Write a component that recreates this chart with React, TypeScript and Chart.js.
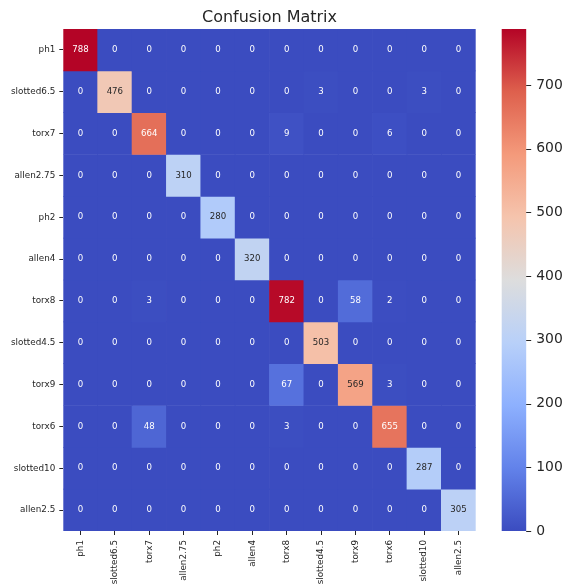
import React, { useEffect, useRef } from "react";
import { Chart, registerables } from "chart.js";

Chart.register(...registerables);

const rowLabels = ["ph1", "slotted6.5", "torx7", "allen2.75", "ph2", "allen4", "torx8", "slotted4.5", "torx9", "torx6", "slotted10", "allen2.5"];
const colLabels = ["ph1", "slotted6.5", "torx7", "allen2.75", "ph2", "allen4", "torx8", "slotted4.5", "torx9", "torx6", "slotted10", "allen2.5"];

const row_ph1 = [788, 0, 0, 0, 0, 0, 0, 0, 0, 0, 0, 0];
const row_slotted65 = [0, 476, 0, 0, 0, 0, 0, 3, 0, 0, 3, 0];
const row_torx7 = [0, 0, 664, 0, 0, 0, 9, 0, 0, 6, 0, 0];
const row_allen275 = [0, 0, 0, 310, 0, 0, 0, 0, 0, 0, 0, 0];
const row_ph2 = [0, 0, 0, 0, 280, 0, 0, 0, 0, 0, 0, 0];
const row_allen4 = [0, 0, 0, 0, 0, 320, 0, 0, 0, 0, 0, 0];
const row_torx8 = [0, 0, 3, 0, 0, 0, 782, 0, 58, 2, 0, 0];
const row_slotted45 = [0, 0, 0, 0, 0, 0, 0, 503, 0, 0, 0, 0];
const row_torx9 = [0, 0, 0, 0, 0, 0, 67, 0, 569, 3, 0, 0];
const row_torx6 = [0, 0, 48, 0, 0, 0, 3, 0, 0, 655, 0, 0];
const row_slotted10 = [0, 0, 0, 0, 0, 0, 0, 0, 0, 0, 287, 0];
const row_allen25 = [0, 0, 0, 0, 0, 0, 0, 0, 0, 0, 0, 305];

const matrix = [row_ph1, row_slotted65, row_torx7, row_allen275, row_ph2, row_allen4, row_torx8, row_slotted45, row_torx9, row_torx6, row_slotted10, row_allen25];

const colorbarTicks = [0, 100, 200, 300, 400, 500, 600, 700];
const titleText = "Confusion Matrix";

const vmax = Math.max(...matrix.map((r) => Math.max(...r)));

// matplotlib coolwarm control points
const coolwarm: [number, number, number, number][] = [
  [0.0, 59, 76, 192],
  [0.125, 98, 130, 234],
  [0.25, 141, 176, 254],
  [0.375, 184, 208, 249],
  [0.5, 221, 221, 221],
  [0.625, 245, 196, 173],
  [0.75, 244, 154, 123],
  [0.875, 222, 96, 77],
  [1.0, 180, 4, 38],
];

function cmapRGB(t: number): [number, number, number] {
  t = Math.max(0, Math.min(1, t));
  for (let i = 1; i < coolwarm.length; i++) {
    const a = coolwarm[i - 1];
    const b = coolwarm[i];
    if (t <= b[0]) {
      const f = (t - a[0]) / (b[0] - a[0]);
      return [a[1] + (b[1] - a[1]) * f, a[2] + (b[2] - a[2]) * f, a[3] + (b[3] - a[3]) * f];
    }
  }
  const l = coolwarm[coolwarm.length - 1];
  return [l[1], l[2], l[3]];
}
function cmap(t: number) {
  const [r, g, b] = cmapRGB(t);
  return `rgb(${Math.round(r)},${Math.round(g)},${Math.round(b)})`;
}
function luminance([r, g, b]: [number, number, number]) {
  const f = (c: number) => {
    c = c / 255;
    return c <= 0.03928 ? c / 12.92 : Math.pow((c + 0.055) / 1.055, 2.4);
  };
  return 0.2126 * f(r) + 0.7152 * f(g) + 0.0722 * f(b);
}

const FONT = "'DejaVu Sans', sans-serif";
const TEXT = "#262626";

const Y_AXIS_W = 63.3;
const X_AXIS_H = 57;
const TOP_PAD = 29;
const CB_AXIS_W = 90.3;
const CB_GAP = 26;
const CB_W = 24.5;
const CB_TICK = 5;
const CB_PAD = 5;

function zeroPadding(s: any) {
  s.paddingTop = 0;
  s.paddingBottom = 0;
  s.paddingLeft = 0;
  s.paddingRight = 0;
}

export default function App() {
  const ref = useRef<HTMLCanvasElement | null>(null);
  useEffect(() => {
    if (!ref.current) return;

    const datasets = matrix.map((row, r) => ({
      label: rowLabels[r],
      data: row.map(() => [r, r + 1]),
      backgroundColor: row.map((v) => cmap(v / vmax)),
      borderWidth: 0,
      barPercentage: 1,
      categoryPercentage: 1,
      grouped: false,
      yAxisID: "y",
    }));

    const titlePlugin = {
      id: "cmTitle",
      afterDraw(chart: any) {
        const { ctx, chartArea } = chart;
        ctx.save();
        ctx.font = `16px ${FONT}`;
        ctx.fillStyle = TEXT;
        ctx.textAlign = "center";
        ctx.textBaseline = "middle";
        ctx.fillText(titleText, (chartArea.left + chartArea.right) / 2, 18);
        ctx.restore();
      },
    };

    const annotPlugin = {
      id: "cmAnnot",
      afterDatasetsDraw(chart: any) {
        const ctx = chart.ctx;
        ctx.save();
        ctx.font = `8.6px ${FONT}`;
        ctx.textAlign = "center";
        ctx.textBaseline = "middle";
        matrix.forEach((row, r) => {
          const meta = chart.getDatasetMeta(r);
          row.forEach((v, c) => {
            const el: any = meta.data[c];
            if (!el) return;
            const lum = luminance(cmapRGB(v / vmax));
            ctx.fillStyle = lum > 0.408 ? TEXT : "#ffffff";
            ctx.fillText(String(v), el.x, (el.y + el.base) / 2);
          });
        });
        ctx.restore();
      },
    };

    const colorbarPlugin = {
      id: "cmColorbar",
      afterDraw(chart: any) {
        const { ctx, chartArea } = chart;
        const s = chart.scales.cb;
        const yTop = s.getPixelForValue(vmax);
        const yBot = s.getPixelForValue(0);
        const x0 = chartArea.right + CB_GAP;
        const grad = ctx.createLinearGradient(0, yBot, 0, yTop);
        coolwarm.forEach((p) => grad.addColorStop(p[0], `rgb(${p[1]},${p[2]},${p[3]})`));
        ctx.save();
        ctx.fillStyle = grad;
        ctx.fillRect(x0, yTop, CB_W, yBot - yTop);
        ctx.strokeStyle = TEXT;
        ctx.lineWidth = 1;
        colorbarTicks.forEach((v) => {
          const y = Math.round(s.getPixelForValue(v)) + 0.5;
          ctx.beginPath();
          ctx.moveTo(x0 + CB_W, y);
          ctx.lineTo(x0 + CB_W + CB_TICK, y);
          ctx.stroke();
        });
        ctx.restore();
      },
    };

    const chart = new Chart(ref.current, {
      type: "bar",
      data: { labels: colLabels, datasets: datasets as any },
      plugins: [titlePlugin, annotPlugin, colorbarPlugin],
      options: {
        animation: false,
        responsive: false,
        devicePixelRatio: 1,
        layout: { padding: { top: TOP_PAD, left: 0, right: 0, bottom: 0 } },
        plugins: { legend: { display: false }, tooltip: { enabled: false }, title: { display: false } },
        scales: {
          x: {
            type: "category",
            offset: true,
            grid: { offset: false, drawOnChartArea: false, tickLength: 4, color: TEXT, lineWidth: 1 },
            border: { display: false },
            ticks: {
              autoSkip: false,
              minRotation: 90,
              maxRotation: 90,
              padding: 5,
              color: TEXT,
              font: { family: FONT, size: 8.8 },
            },
            afterFit: (s: any) => {
              s.height = X_AXIS_H;
              zeroPadding(s);
            },
          },
          y: {
            type: "linear",
            position: "left",
            min: 0,
            max: rowLabels.length,
            reverse: true,
            afterBuildTicks: (s: any) => {
              s.ticks = rowLabels.map((_, i) => ({ value: i + 0.5 }));
            },
            grid: { drawOnChartArea: false, tickLength: 4, color: TEXT, lineWidth: 1 },
            border: { display: false },
            ticks: {
              autoSkip: false,
              padding: 4,
              color: TEXT,
              font: { family: FONT, size: 8.8 },
              callback: (_v: any, i: number) => rowLabels[i],
            },
            afterFit: (s: any) => {
              s.width = Y_AXIS_W;
              zeroPadding(s);
            },
          },
          cb: {
            type: "linear",
            position: "right",
            min: 0,
            max: vmax,
            afterBuildTicks: (s: any) => {
              s.ticks = colorbarTicks.map((v) => ({ value: v }));
            },
            grid: { display: false, drawOnChartArea: false, drawTicks: false },
            border: { display: false },
            ticks: {
              padding: CB_GAP + CB_W + CB_TICK + CB_PAD,
              color: TEXT,
              font: { family: FONT, size: 13.9 },
            },
            afterFit: (s: any) => {
              s.width = CB_AXIS_W;
              zeroPadding(s);
            },
          },
        },
      } as any,
    });
    return () => chart.destroy();
  }, []);

  return (
    <div style={{ position: "absolute", left: 0, top: 0, width: 566, height: 588, background: "#fff" }}>
      <canvas ref={ref} width={566} height={588} style={{ display: "block" }} />
    </div>
  );
}
